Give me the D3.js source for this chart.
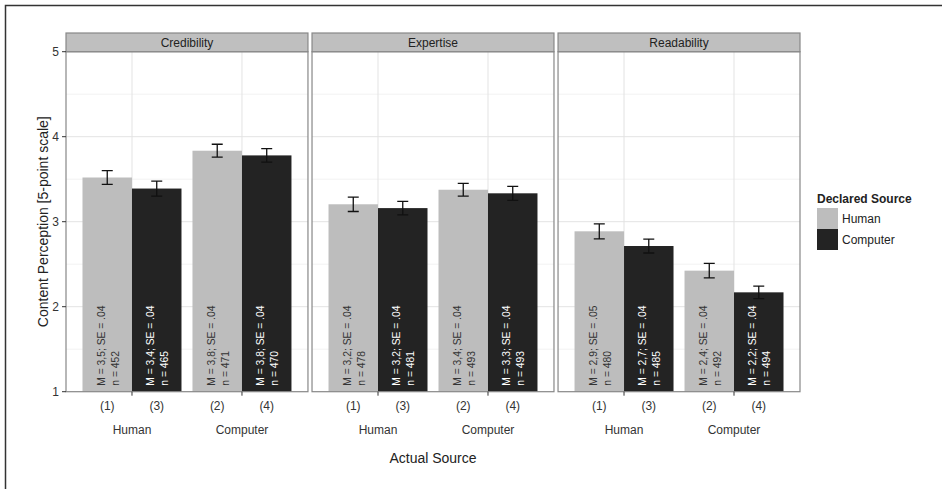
<!DOCTYPE html>
<html>
<head>
<meta charset="utf-8">
<script src="https://cdn.jsdelivr.net/npm/d3@7"></script>
<style>
  body { margin: 0; background: #fff; }
  text { font-family: "Liberation Sans", Arial, sans-serif; }
</style>
</head>
<body>
<script>
// panels, categories, groups
const facets = ["Credibility", "Expertise", "Readability"];
const actualSources = ["Human", "Computer"];
const declaredSources = ["Human", "Computer"];
// condition numbers, order: [actual Human: decl Human, decl Computer], [actual Computer: ...]
const conditionLabels = ["(1)", "(3)", "(2)", "(4)"];

// means (bar heights), order H/H, H/C, C/H, C/C
const credibilityMeans = [3.52, 3.39, 3.835, 3.78];
const expertiseMeans = [3.205, 3.16, 3.376, 3.334];
const readabilityMeans = [2.887, 2.714, 2.424, 2.169];

// half width of error bars
const credibilityErr = [0.082, 0.088, 0.076, 0.079];
const expertiseErr = [0.085, 0.079, 0.074, 0.082];
const readabilityErr = [0.088, 0.082, 0.086, 0.073];

// printed labels inside bars
const credibilityM = ["3,5", "3,4", "3,8", "3,8"];
const expertiseM = ["3,2", "3,2", "3,4", "3,3"];
const readabilityM = ["2,9", "2,7", "2,4", "2,2"];
const credibilitySE = [".04", ".04", ".04", ".04"];
const expertiseSE = [".04", ".04", ".04", ".04"];
const readabilitySE = [".05", ".04", ".04", ".04"];
const credibilityN = [452, 465, 471, 470];
const expertiseN = [478, 481, 493, 493];
const readabilityN = [480, 485, 492, 494];

const yTicks = [1, 2, 3, 4, 5];
const yMinor = [1.5, 2.5, 3.5, 4.5];

const W = 942, H = 489;
const fill = { Human: "#bdbdbd", Computer: "#232323" };

const meansBy = [credibilityMeans, expertiseMeans, readabilityMeans];
const errBy = [credibilityErr, expertiseErr, readabilityErr];
const mBy = [credibilityM, expertiseM, readabilityM];
const seBy = [credibilitySE, expertiseSE, readabilitySE];
const nBy = [credibilityN, expertiseN, readabilityN];

const rows = [];
facets.forEach((f, fi) => {
  let k = 0;
  actualSources.forEach(a => {
    declaredSources.forEach(d => {
      rows.push({
        facet: f, actual: a, declared: d, cond: conditionLabels[k],
        mean: meansBy[fi][k], err: errBy[fi][k],
        m: mBy[fi][k], se: seBy[fi][k], n: nBy[fi][k]
      });
      k++;
    });
  });
});

const svg = d3.select("body").append("svg")
  .attr("width", W).attr("height", H);

// outer frame (left and top visible)
svg.append("path")
  .attr("d", `M5.5,${H}V5.5H${W}`)
  .attr("fill", "none").attr("stroke", "#333").attr("stroke-width", 1.5);

const panelTop = 51.7, panelBottom = 391.7, stripTop = 33;

const fx = d3.scaleBand().domain(facets).range([66, 800]).paddingInner(0.0165);
const y = d3.scaleLinear().domain([1, 5]).range([panelBottom, panelTop]);
const x = d3.scaleBand().domain(actualSources).range([0, fx.bandwidth()])
  .paddingInner(0.1).paddingOuter(0.15);
const xd = d3.scaleBand().domain(declaredSources).range([0, x.bandwidth()]);

facets.forEach(f => {
  const g = svg.append("g").attr("transform", `translate(${fx(f)},0)`);
  const pw = fx.bandwidth();

  // background grid
  g.selectAll(".minor").data(yMinor).enter().append("line")
    .attr("x1", 0).attr("x2", pw)
    .attr("y1", d => y(d)).attr("y2", d => y(d))
    .attr("stroke", "#f2f2f2").attr("stroke-width", 1);
  g.selectAll(".major").data(yTicks.slice(1, 4)).enter().append("line")
    .attr("x1", 0).attr("x2", pw)
    .attr("y1", d => y(d)).attr("y2", d => y(d))
    .attr("stroke", "#e3e3e3").attr("stroke-width", 1);
  g.selectAll(".vgrid").data(actualSources).enter().append("line")
    .attr("x1", d => x(d) + x.bandwidth() / 2).attr("x2", d => x(d) + x.bandwidth() / 2)
    .attr("y1", panelTop).attr("y2", panelBottom)
    .attr("stroke", "#e3e3e3").attr("stroke-width", 1);

  const data = rows.filter(r => r.facet === f);
  const bx = d => x(d.actual) + xd(d.declared);

  g.selectAll(".bar").data(data).enter().append("rect")
    .attr("x", bx)
    .attr("y", d => y(d.mean))
    .attr("width", xd.bandwidth())
    .attr("height", d => y(1) - y(d.mean))
    .attr("fill", d => fill[d.declared]);

  // error bars
  const ew = 5.5;
  const eb = g.selectAll(".err").data(data).enter().append("g")
    .attr("stroke", "#111").attr("stroke-width", 1.3).attr("fill", "none");
  eb.append("path")
    .attr("d", d => {
      const cx = bx(d) + xd.bandwidth() / 2;
      const t = y(d.mean + d.err), b = y(d.mean - d.err);
      return `M${cx - ew},${t}H${cx + ew}M${cx},${t}V${b}M${cx - ew},${b}H${cx + ew}`;
    });

  // labels inside bars
  const lab = g.selectAll(".lab").data(data).enter().append("text")
    .attr("transform", d => `translate(${bx(d) + xd.bandwidth() / 2},${y(1) - 6}) rotate(-90)`)
    .attr("text-anchor", "start")
    .style("font-size", "10.3px")
    .attr("fill", d => d.declared === "Human" ? "#333" : "#fff");
  lab.append("tspan").attr("x", 0).attr("y", -6).attr("dy", "0.35em")
    .text(d => `M = ${d.m}; SE = ${d.se}`);
  lab.append("tspan").attr("x", 0).attr("y", 8).attr("dy", "0.35em")
    .text(d => `n = ${d.n}`);

  // panel border
  g.append("rect")
    .attr("x", 0).attr("y", panelTop).attr("width", pw).attr("height", panelBottom - panelTop)
    .attr("fill", "none").attr("stroke", "#888").attr("stroke-width", 1.2);

  // strip
  g.append("rect")
    .attr("x", 0).attr("y", stripTop).attr("width", pw).attr("height", panelTop - stripTop)
    .attr("fill", "#bfbfbf").attr("stroke", "#888").attr("stroke-width", 1.2);
  g.append("text")
    .attr("x", pw / 2).attr("y", (stripTop + panelTop) / 2).attr("dy", "0.35em")
    .attr("text-anchor", "middle").style("font-size", "12px").attr("fill", "#222")
    .text(f);

  // x axis: ticks, condition numbers, source names
  g.selectAll(".xt").data(actualSources).enter().append("line")
    .attr("x1", d => x(d) + x.bandwidth() / 2).attr("x2", d => x(d) + x.bandwidth() / 2)
    .attr("y1", panelBottom).attr("y2", panelBottom + 4)
    .attr("stroke", "#333");
  g.selectAll(".cond").data(data).enter().append("text")
    .attr("x", d => bx(d) + xd.bandwidth() / 2).attr("y", 410)
    .attr("text-anchor", "middle").style("font-size", "12px").attr("fill", "#333")
    .text(d => d.cond);
  g.selectAll(".xl").data(actualSources).enter().append("text")
    .attr("x", d => x(d) + x.bandwidth() / 2).attr("y", 434)
    .attr("text-anchor", "middle").style("font-size", "12px").attr("fill", "#333")
    .text(d => d);
});

// y axis on first panel
const ya = svg.append("g").attr("transform", `translate(${fx(facets[0])},0)`);
ya.selectAll("line").data(yTicks).enter().append("line")
  .attr("x1", -4).attr("x2", 0).attr("y1", d => y(d)).attr("y2", d => y(d))
  .attr("stroke", "#333");
ya.selectAll("text").data(yTicks).enter().append("text")
  .attr("x", -7).attr("y", d => y(d)).attr("dy", "0.35em")
  .attr("text-anchor", "end").style("font-size", "12px").attr("fill", "#333")
  .text(d => d);

// axis titles
svg.append("text")
  .attr("transform", `translate(43,${(panelTop + panelBottom) / 2}) rotate(-90)`)
  .attr("dy", "0.35em").attr("text-anchor", "middle")
  .style("font-size", "14px").attr("fill", "#222")
  .text("Content Perception [5-point scale]");
svg.append("text")
  .attr("x", (fx.range()[0] + fx.range()[1]) / 2).attr("y", 463)
  .attr("text-anchor", "middle").style("font-size", "14px").attr("fill", "#222")
  .text("Actual Source");

// legend
const lg = svg.append("g").attr("transform", "translate(817,0)");
lg.append("text").attr("x", 0).attr("y", 203)
  .style("font-size", "12px").style("font-weight", "bold").attr("fill", "#222")
  .text("Declared Source");
const items = lg.selectAll(".item").data(declaredSources).enter().append("g")
  .attr("transform", (d, i) => `translate(0,${208 + i * 21})`);
items.append("rect").attr("width", 21).attr("height", 21)
  .attr("fill", d => fill[d]);
items.append("text").attr("x", 25).attr("y", 10.5).attr("dy", "0.35em")
  .style("font-size", "12px").attr("fill", "#222")
  .text(d => d);
</script>
</body>
</html>
